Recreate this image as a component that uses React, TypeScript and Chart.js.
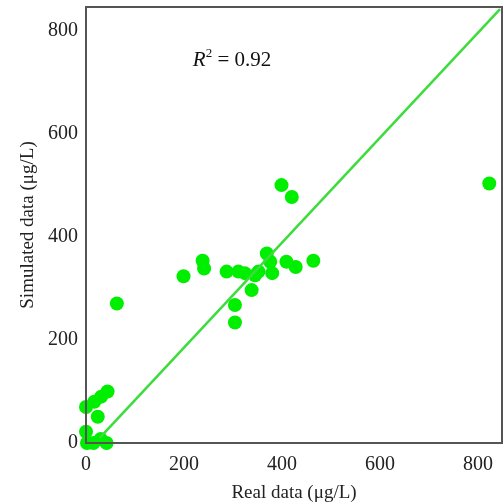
import React, { useEffect, useRef } from "react";
import { Chart, registerables } from "chart.js";

Chart.register(...registerables);

const realData = [0, 17, 31, 44, 24, 0, 2, 15, 30, 42, 63, 199, 238, 241, 287, 311, 324, 345, 352, 338, 369, 376, 380, 409, 428, 464, 399, 420, 304, 304, 823];
const simulatedData = [70, 80, 90, 100, 51, 22, 0, 0, 8, 0, 271, 324, 354, 339, 333, 333, 330, 326, 333, 297, 368, 352, 330, 352, 342, 354, 501, 478, 268, 234, 504];
const fitX = [28, 845];
const fitY = [10, 843];
const tickValues = [0, 200, 400, 600, 800];
const r2Text = "0.92";

const FONT = "'Liberation Serif', 'DejaVu Serif', serif";

const framePlugin = {
  id: "frame",
  afterDatasetsDraw(chart: any) {
    const { ctx, chartArea } = chart;
    ctx.save();
    ctx.strokeStyle = "#555";
    ctx.lineWidth = 2;
    ctx.strokeRect(chartArea.left, chartArea.top, chartArea.right - chartArea.left, chartArea.bottom - chartArea.top);
    const xs = chart.scales.x;
    const ys = chart.scales.y;
    let px = xs.getPixelForValue(218);
    const py = ys.getPixelForValue(732);
    ctx.fillStyle = "#111";
    ctx.textBaseline = "alphabetic";
    ctx.font = `italic 21px ${FONT}`;
    ctx.fillText("R", px, py);
    px += ctx.measureText("R").width;
    ctx.font = `13px ${FONT}`;
    ctx.fillText("2", px, py - 9);
    px += ctx.measureText("2").width;
    ctx.font = `21px ${FONT}`;
    ctx.fillText(" = " + r2Text, px, py);
    ctx.restore();
  },
};

export default function App() {
  const ref = useRef<HTMLCanvasElement>(null);
  useEffect(() => {
    if (!ref.current) return;
    const chart = new Chart(ref.current, {
      type: "scatter",
      data: {
        datasets: [
          {
            type: "line",
            data: fitX.map((x, i) => ({ x, y: fitY[i] })),
            borderColor: "#3ddc3d",
            borderWidth: 2.5,
            pointRadius: 0,
            fill: false,
            clip: false as any,
          },
          {
            data: realData.map((x, i) => ({ x, y: simulatedData[i] })),
            backgroundColor: "#00ee00",
            borderColor: "#00ee00",
            pointRadius: 7,
            borderWidth: 0,
            clip: false as any,
          },
        ],
      },
      options: {
        animation: false,
        responsive: false,
        maintainAspectRatio: false,
        layout: { autoPadding: false, padding: { left: 0, top: 7, right: 2, bottom: 0 } },
        plugins: { legend: { display: false }, tooltip: { enabled: false } },
        scales: {
          x: {
            type: "linear",
            min: 0,
            max: 849,
            afterBuildTicks: (s: any) => {
              s.ticks = tickValues.map((v) => ({ value: v }));
            },
            afterFit: (s: any) => {
              s.height = 61;
              s.paddingLeft = 0;
              s.paddingRight = 0;
            },
            grid: { display: false, drawTicks: false },
            border: { display: true, color: "#555", width: 2 },
            ticks: { color: "#222", font: { family: FONT, size: 20 }, padding: 10, maxRotation: 0 },
            title: { display: true, text: "Real data (μg/L)", color: "#222", font: { family: FONT, size: 19 }, padding: { top: 0, bottom: 0 } },
          },
          y: {
            type: "linear",
            min: 0,
            max: 847,
            afterBuildTicks: (s: any) => {
              s.ticks = tickValues.map((v) => ({ value: v }));
            },
            afterFit: (s: any) => {
              s.width = 86;
              s.paddingTop = 0;
              s.paddingBottom = 0;
            },
            grid: { display: false, drawTicks: false },
            border: { display: true, color: "#555", width: 2 },
            ticks: { color: "#222", font: { family: FONT, size: 20 }, padding: 8 },
            title: { display: true, text: "Simulated data (μg/L)", color: "#222", font: { family: FONT, size: 19 }, padding: { top: 17, bottom: 0 } },
          },
        },
      },
      plugins: [framePlugin],
    } as any);
    return () => chart.destroy();
  }, []);
  return (
    <div style={{ position: "fixed", left: 0, top: 0, width: 504, height: 504, background: "#fff" }}>
      <canvas ref={ref} width={504} height={504} style={{ width: 504, height: 504 }} />
    </div>
  );
}
